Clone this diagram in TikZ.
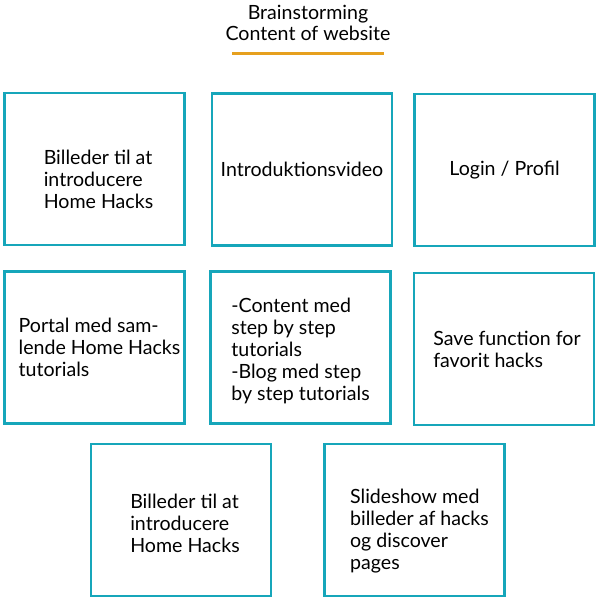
\documentclass[tikz,border=0pt]{standalone}
\usepackage{fontspec}
\setmainfont{Lato}
\definecolor{boxteal}{RGB}{22,166,186}
\definecolor{lineorange}{RGB}{230,160,30}

\begin{document}
\begin{tikzpicture}[x=1pt, y=-1pt,
    card/.style={draw=boxteal, line width=2.6pt, minimum width=180pt, minimum height=152pt, inner sep=0pt},
    cardtext/.style={inner sep=0pt, align=left, font=\fontsize{19.6}{22}\selectfont},
    heading/.style={align=center, font=\fontsize{19.6}{20.5}\selectfont}]
    \useasboundingbox (0,0) rectangle (608,601);

    % Draw the heading with its underline
    \node[heading] (title) at (308,23) {Brainstorming\\Content of website};
    \draw[lineorange, line width=3pt] (232,54) -- (384,54);

    % Draw the first row of cards
    \node[card] (pictures) at (94.5,169) {};
    \node[cardtext] at ([xshift=4pt, yshift=-10pt]pictures.center) {Billeder til at\\introducere\\Home Hacks};
    \node[card] (video) at (302,169.5) {};
    \node[cardtext] at (video.center) {Introduktionsvideo};
    \node[card] (login) at (504.5,170) {};
    \node[cardtext] at (login.center) {Login / Profil};

    % Draw the second row of cards
    \node[card] (portal) at (94.5,347.5) {};
    \node[cardtext] at ([xshift=5pt]portal.center) {Portal med sam-\\lende Home Hacks\\tutorials};
    \node[card] (content) at (300.5,347.5) {};
    \node[cardtext] at ([yshift=-3pt]content.center) {-Content med\\step by step\\tutorials\\-Blog med step\\by step tutorials};
    \node[card] (save) at (504,349) {};
    \node[cardtext] at ([xshift=3pt]save.center) {Save function for\\favorit hacks};

    % Draw the last row of cards
    \node[card] (morepictures) at (181,520) {};
    \node[cardtext] at ([xshift=4pt, yshift=-3pt]morepictures.center) {Billeder til at\\introducere\\Home Hacks};
    \node[card] (slideshow) at (414.5,520) {};
    \node[cardtext] at ([xshift=5pt, yshift=-11pt]slideshow.center) {Slideshow med\\billeder af hacks\\og discover\\pages};
\end{tikzpicture}
\end{document}
